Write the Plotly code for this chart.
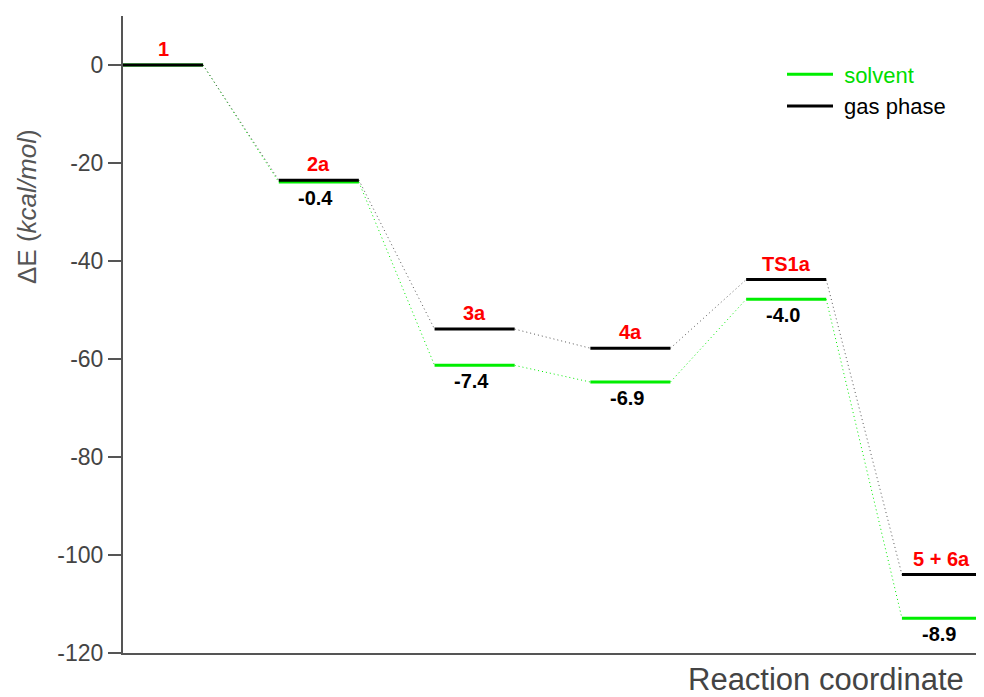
import plotly.graph_objects as go

states = ["1", "2a", "3a", "4a", "TS1a", "5 + 6a"]
gas_phase = [0.0, -23.5, -53.9, -57.8, -43.8, -104.0]
solvent = [0.0, -23.9, -61.3, -64.7, -47.8, -112.9]
solvation_labels = ["", "-0.4", "-7.4", "-6.9", "-4.0", "-8.9"]
y_tickvals = [0, -20, -40, -60, -80, -100, -120]
y_ticktext = ["0", "-20", "-40", "-60", "-80", "-100", "-120"]

HALF = 0.257
GREEN = "#00ee00"
FONT = "Arial, Liberation Sans, sans-serif"


def level_xy(vals):
    xs, ys = [], []
    for i, v in enumerate(vals):
        xs += [i - HALF, i + HALF, None]
        ys += [v, v, None]
    return xs, ys


def connector_xy(vals):
    xs, ys = [], []
    for i in range(len(vals) - 1):
        xs += [i + HALF, i + 1 - HALF, None]
        ys += [vals[i], vals[i + 1], None]
    return xs, ys


fig = go.Figure()

cx, cy = connector_xy(solvent)
fig.add_trace(go.Scatter(x=cx, y=cy, mode="lines", line=dict(color=GREEN, width=1, dash="1px,3px"),
                         showlegend=False, hoverinfo="skip"))
cx, cy = connector_xy(gas_phase)
fig.add_trace(go.Scatter(x=cx, y=cy, mode="lines", line=dict(color="#555555", width=1, dash="1px,3px"),
                         showlegend=False, hoverinfo="skip"))

lx, ly = level_xy(solvent)
fig.add_trace(go.Scatter(x=lx, y=ly, mode="lines", line=dict(color=GREEN, width=3),
                         name="&nbsp;<span style='color:#00dd00'>solvent</span>", legendrank=1))
lx, ly = level_xy(gas_phase)
fig.add_trace(go.Scatter(x=lx, y=ly, mode="lines", line=dict(color="black", width=3),
                         name="&nbsp;gas phase", legendrank=2))

for i, name in enumerate(states):
    fig.add_annotation(x=i, y=gas_phase[i], text=f"<b>{name}</b>", showarrow=False,
                       yanchor="bottom", yshift=3, font=dict(family=FONT, size=20, color="red"))
    if solvation_labels[i]:
        fig.add_annotation(x=i, y=solvent[i], text=f"<b>{solvation_labels[i]}</b>", showarrow=False,
                           yanchor="top", yshift=-3, xshift=-3,
                           font=dict(family=FONT, size=20, color="black"))

fig.add_annotation(xref="paper", yref="paper", x=(27 - 123) / 859, y=(653 - 207) / 637,
                   text="ΔE (<i>kcal/mol</i>)", textangle=-90, showarrow=False,
                   xanchor="center", yanchor="middle",
                   font=dict(family=FONT, size=26, color="#555555"))
fig.add_annotation(xref="paper", yref="paper", x=(966 - 123) / 859, y=(653 - 679) / 637,
                   text="Reaction coordinate", showarrow=False,
                   xanchor="right", yanchor="middle",
                   font=dict(family=FONT, size=31, color="#444444"))

# the page body adds an 8px offset, so the figure is drawn 8px smaller
fig.update_layout(
    width=976, height=689,
    margin=dict(l=115, r=2, t=8, b=44),
    plot_bgcolor="white", paper_bgcolor="white",
    font=dict(family=FONT),
    legend=dict(x=(782 - 123) / 859, y=(653 - 53.5) / 637, xanchor="left", yanchor="top",
                bgcolor="rgba(0,0,0,0)", font=dict(family=FONT, size=22, color="black"),
                itemwidth=46, tracegroupgap=0),
    showlegend=True,
)
fig.update_xaxes(range=[-HALF, 5 + HALF], showline=True, linecolor="#555555", linewidth=2,
                 showticklabels=False, ticks="", showgrid=False, zeroline=False)
fig.update_yaxes(range=[-120, 10], tickvals=y_tickvals, ticktext=y_ticktext,
                 showline=True, linecolor="#555555", linewidth=2,
                 ticks="outside", ticklen=13, tickwidth=2, tickcolor="#555555",
                 tickfont=dict(family=FONT, size=23, color="#444444"),
                 showgrid=False, zeroline=False)

fig.write_html("out.html")
